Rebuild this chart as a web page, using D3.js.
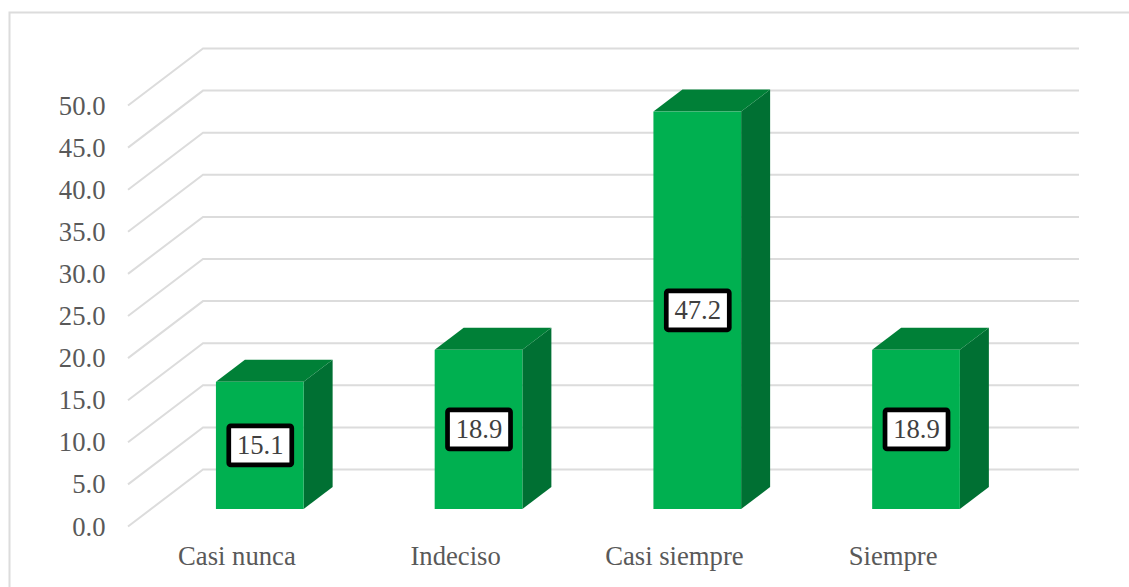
<!DOCTYPE html>
<html><head><meta charset="utf-8">
<script src="https://cdn.jsdelivr.net/npm/d3@7/dist/d3.min.js"></script>
<style>html,body{margin:0;padding:0;background:#fff}svg{display:block}text{font-family:"Liberation Serif",serif}</style>
</head><body><svg id="c" width="1129" height="587"></svg>
<script>
const categories=["Casi nunca","Indeciso","Casi siempre","Siempre"];
const values=[15.1,18.9,47.2,18.9];
const tickValues=[0,5,10,15,20,25,30,35,40,45,50];
const svg=d3.select("#c");
const W=1129,H=587;
// chart frame
svg.append("path").attr("d",`M9.5,${H}V12.5H${W}`).attr("fill","none").attr("stroke","#dcdcdc").attr("stroke-width",2);
// front plane scales; back wall is offset by wall depth
const y=d3.scaleLinear().domain([0,50]).range([526.5,105.5]);
const x=d3.scaleBand().domain(categories).range([128,1003]);
const wall={dx:75,dy:-57};
const barShift={dx:22.4,dy:-17.5};
const depth={dx:29,dy:-22};
const barWidth=87.7;
const g=svg.append("g");
g.selectAll("path.grid").data(tickValues).join("path").attr("class","grid")
 .attr("fill","none").attr("stroke","#dcdcdc").attr("stroke-width",2)
 .attr("d",d=>`M${x.range()[0]},${y(d)}L${x.range()[0]+wall.dx},${y(d)+wall.dy}H${x.range()[1]+wall.dx+1}`);
const axis=d3.axisLeft(y).tickValues(tickValues).tickFormat(d3.format(".1f")).tickSize(0).tickPadding(0);
const ax=svg.append("g").attr("transform","translate(105.5,0)").call(axis);
ax.select(".domain").remove();
ax.selectAll("text").attr("font-size",26.67).attr("fill","#595959").attr("font-family","Liberation Serif").attr("dy","0.32em");
svg.selectAll("text.cat").data(categories).join("text").attr("class","cat")
 .attr("x",d=>x(d)+x.bandwidth()/2-0.5).attr("y",565).attr("text-anchor","middle")
 .attr("font-size",26.67).attr("fill","#595959").text(d=>d);
const rows=categories.map((c,i)=>({c,v:values[i]}));
const bars=svg.selectAll("g.bar").data(rows).join("g").attr("class","bar");
const fx=d=>x(d.c)+x.bandwidth()/2+barShift.dx-barWidth/2;
const base=y(0)+barShift.dy;
const barTop=d=>y(d.v)+barShift.dy;
bars.append("path").attr("fill","#007033").attr("d",d=>`M${fx(d)+barWidth},${barTop(d)}l${depth.dx},${depth.dy}V${base+depth.dy}l${-depth.dx},${-depth.dy}Z`);
bars.append("path").attr("fill","#008037").attr("d",d=>`M${fx(d)},${barTop(d)}l${depth.dx},${depth.dy}h${barWidth}l${-depth.dx},${-depth.dy}Z`);
bars.append("rect").attr("fill","#00b050").attr("x",fx).attr("y",barTop).attr("width",barWidth).attr("height",d=>base-barTop(d));
const bw=63,bh=39;
bars.append("rect").attr("x",d=>fx(d)+barWidth/2-bw/2+0.5).attr("y",d=>(barTop(d)+base)/2-bh/2).attr("width",bw).attr("height",bh)
 .attr("fill","#fff").attr("stroke","#000").attr("stroke-width",4.7).attr("rx",2);
bars.append("text").attr("x",d=>fx(d)+barWidth/2+0.5).attr("y",d=>(barTop(d)+base)/2).attr("dy","0.33em")
 .attr("text-anchor","middle").attr("font-size",26.67).attr("fill","#404040").text(d=>d3.format(".1f")(d.v));
</script></body></html>
